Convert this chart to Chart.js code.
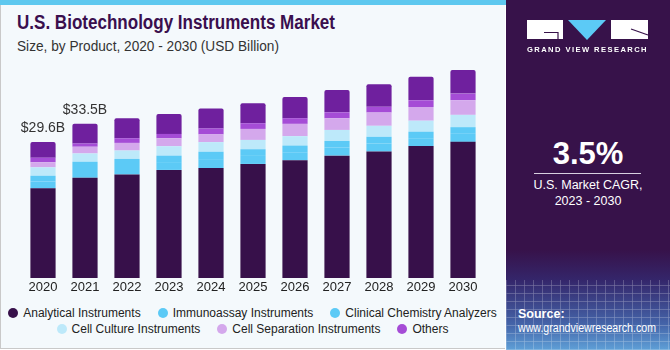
<!DOCTYPE html>
<html><head><meta charset="utf-8">
<script src="https://cdn.jsdelivr.net/npm/chart.js@4.4.1/dist/chart.umd.min.js"></script>
<style>
html,body{margin:0;padding:0;width:670px;height:350px;overflow:hidden;background:#fff;font-family:"Liberation Sans",Arial,sans-serif;}
#left{position:absolute;left:0;top:0;width:505px;height:349px;background:#f4f9fc;border-left:1px solid #c9c9c9;border-bottom:1px solid #c9c9c9;box-sizing:border-box;}
#strip{position:absolute;left:0;top:0;width:506px;height:5px;background:#5ec8ef;}
.fit{position:absolute;white-space:nowrap;transform-origin:0 0;}
#title{left:17px;top:11px;font-weight:bold;font-size:20px;color:#3a0f4e;}
#sub{left:17px;top:38px;font-size:14px;color:#333;}
#chartBox{position:absolute;left:0;top:0;width:505px;height:300px;}
#legend{position:absolute;left:0;top:305px;width:505px;font-size:12px;color:#222;}
.row{display:flex;justify-content:center;height:16px;align-items:center;white-space:nowrap;}
.item{display:flex;align-items:center;margin:0 8.5px;flex-shrink:0;white-space:nowrap;}
.dot{width:10px;height:10px;border-radius:50%;margin-right:5px;flex-shrink:0;}
#right{position:absolute;left:506px;top:0;width:164px;height:350px;background:#37124a;overflow:hidden;}
#grid{position:absolute;left:0;top:250px;width:164px;height:100px;
 background:linear-gradient(180deg,rgba(55,18,74,1) 0%,rgba(52,40,110,0.9) 30%,rgba(70,110,180,0.9) 75%,rgba(95,160,215,1) 100%);}
#gridLines{position:absolute;left:0;top:280px;width:164px;height:70px;opacity:0.35;
 background-image:repeating-linear-gradient(90deg,rgba(255,255,255,0.6) 0 1px,transparent 1px 9px),repeating-linear-gradient(0deg,rgba(255,255,255,0.6) 0 1px,transparent 1px 8px);}
.wt{color:#fff;position:absolute;white-space:nowrap;}
</style></head>
<body>
<div id="left"></div>
<div id="strip"></div>
<div id="title" class="fit">U.S. Biotechnology Instruments Market</div>
<div id="sub" class="fit">Size, by Product, 2020 - 2030 (USD Billion)</div>
<div id="chartBox"><canvas id="c" width="505" height="300"></canvas></div>
<div id="legend"></div>
<div id="right">
  <div id="grid"></div><div id="gridLines"></div>
  <canvas id="logo" width="164" height="60" style="position:absolute;left:0;top:0"></canvas>
  <div id="gvr" class="wt fit" style="left:21px;top:45px;font-size:8px;font-weight:bold;letter-spacing:1.5px;">GRAND VIEW RESEARCH</div>
  <div class="wt" style="left:0;width:164px;text-align:center;top:136px;font-size:31px;font-weight:bold;">3.5%</div>
  <div style="position:absolute;left:28px;top:173px;width:107px;height:1px;background:#d8d0e0;"></div>
  <div class="wt" style="left:0;width:164px;text-align:center;top:177px;font-size:12.5px;line-height:16px;">U.S. Market CAGR,<br>2023 - 2030</div>
  <div class="wt" style="left:12px;top:307px;font-size:12.5px;font-weight:bold;">Source:</div>
  <div id="src" class="wt fit" style="left:12px;top:321px;font-size:12.5px;">www.grandviewresearch.com</div>
</div>
<script>
const years = ['2020','2021','2022','2023','2024','2025','2026','2027','2028','2029','2030'];
const analytical   = [19.5, 21.8, 22.5, 23.5, 23.9, 24.8, 25.6, 26.6, 27.5, 28.7, 29.6];
const immunoassay  = [1.5, 1.9, 1.85, 1.7, 1.95, 1.75, 1.75, 1.75, 1.75, 1.7, 1.75];
const clinicalChem = [1.24, 1.58, 1.54, 1.41, 1.6, 1.45, 1.45, 1.45, 1.45, 1.41, 1.45];
const cellCulture  = [1.83, 1.8, 1.83, 2.04, 2.1, 2.02, 2.04, 2.39, 2.39, 2.39, 2.67];
const cellSep      = [1.09, 1.46, 1.65, 1.74, 1.67, 2.39, 2.67, 2.54, 2.89, 2.98, 3.2];
const others       = [1.0, 0.72, 1.02, 0.94, 1.3, 1.24, 1.24, 1.3, 1.24, 1.46, 1.43];
const otherProducts= [3.4, 4.28, 4.35, 4.35, 4.35, 4.35, 4.63, 4.85, 4.93, 5.13, 5.15];
const totalLabels  = ['$29.6B', '$33.5B'];

const series = [
  {label:'Analytical Instruments', data:analytical, color:'#37104a'},
  {label:'Immunoassay Instruments', data:immunoassay, color:'#5ccaf6'},
  {label:'Clinical Chemistry Analyzers', data:clinicalChem, color:'#5ccaf6'},
  {label:'Cell Culture Instruments', data:cellCulture, color:'#bde9fa'},
  {label:'Cell Separation Instruments', data:cellSep, color:'#d4a8ec'},
  {label:'Others', data:others, color:'#a54cd6'},
  {label:'Other Products', data:otherProducts, color:'#6f209e'}
];

function fit(el, w){ const r = el.getBoundingClientRect(); el.style.transform = 'scaleX(' + (w / r.width) + ')'; }
fit(document.getElementById('title'), 318);
fit(document.getElementById('sub'), 262);
fit(document.getElementById('gvr'), 121);
fit(document.getElementById('src'), 138);

// legend (first six series)
const rows = [series.slice(0,3), series.slice(3,6)];
const lg = document.getElementById('legend');
rows.forEach(r => {
  const row = document.createElement('div'); row.className = 'row';
  r.forEach(s => {
    const it = document.createElement('div'); it.className = 'item';
    it.innerHTML = '<span class="dot" style="background:' + s.color + '"></span><span>' + s.label + '</span>';
    row.appendChild(it);
  });
  lg.appendChild(row);
});

const labelPlugin = {
  id:'totals',
  afterDatasetsDraw(chart){
    const ctx = chart.ctx, xs = chart.scales.x, ys = chart.scales.y;
    ctx.save();
    ctx.font = '14px "Liberation Sans", Arial, sans-serif';
    ctx.fillStyle = '#333'; ctx.textAlign = 'center'; ctx.textBaseline = 'alphabetic';
    totalLabels.forEach((t, i) => {
      let sum = 0; series.forEach(s => sum += s.data[i]);
      ctx.fillText(t, xs.getPixelForValue(i), ys.getPixelForValue(sum) - 10);
    });
    ctx.restore();
  }
};

new Chart(document.getElementById('c'), {
  type:'bar',
  data:{ labels: years, datasets: series.map((s, k) => ({
    label: s.label, data: s.data, backgroundColor: s.color, borderWidth: 0,
    borderRadius: k === series.length - 1 ? {topLeft:2, topRight:2} : 0, borderSkipped: false,
    barPercentage: 0.6, categoryPercentage: 1.0
  }))},
  options:{
    responsive:false, animation:false, devicePixelRatio:1,
    layout:{padding:{left:22, right:21, top:60, bottom:0}},
    plugins:{legend:{display:false}, tooltip:{enabled:false}},
    scales:{
      x:{stacked:true, grid:{display:false, drawTicks:false}, border:{display:false},
         afterFit(scale){ scale.height = 22; },
         ticks:{font:{size:13, family:'"Liberation Sans", Arial, sans-serif'}, color:'#222', padding:2}},
      y:{stacked:true, display:false, min:0, max:47.4}
    }
  },
  plugins:[labelPlugin]
});

// logo
const lc = document.getElementById('logo').getContext('2d');
lc.fillStyle = '#fff';
lc.fillRect(21, 20, 36, 19);
lc.fillRect(105, 20, 37, 19);
lc.fillStyle = '#5ccaf6';
lc.beginPath(); lc.moveTo(62, 20); lc.lineTo(100, 20); lc.lineTo(81, 40); lc.closePath(); lc.fill();
lc.strokeStyle = '#37124a'; lc.lineWidth = 1.2;
lc.beginPath(); lc.moveTo(38, 32.5); lc.lineTo(52, 32.5); lc.lineTo(52, 39); lc.stroke();
lc.beginPath(); lc.moveTo(125, 29); lc.lineTo(142, 35); lc.stroke();
</script>
</body></html>
